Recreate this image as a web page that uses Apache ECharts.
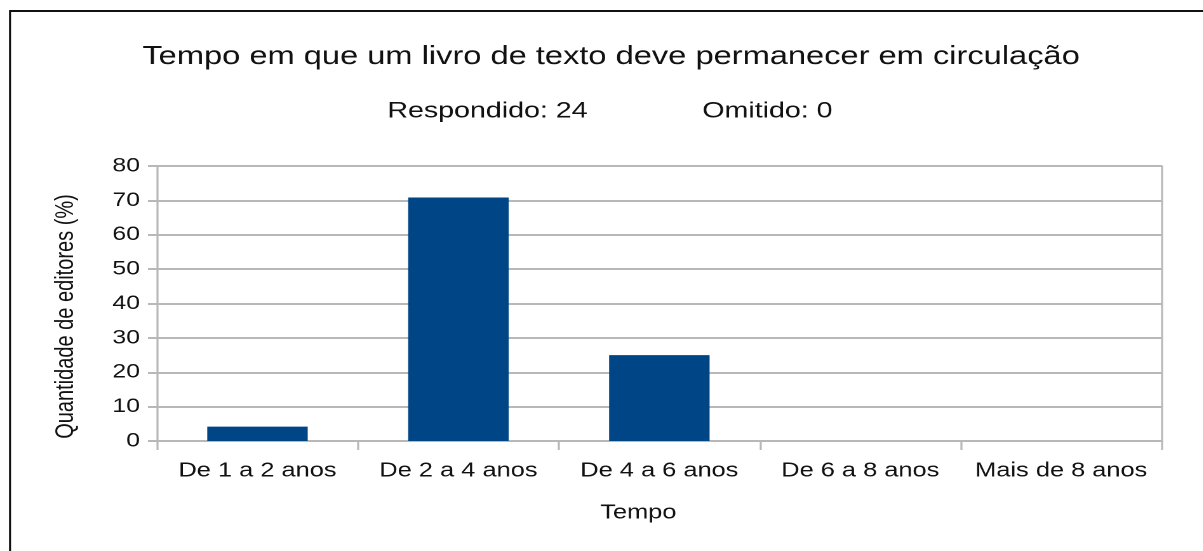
<!DOCTYPE html>
<html>
<head>
<meta charset="utf-8">
<script src="https://cdn.jsdelivr.net/npm/echarts@6/dist/echarts.min.js"></script>
<style>
  html, body { margin: 0; padding: 0; background: #fff; overflow: hidden; }
  #frame { width: 1203px; height: 551px; overflow: hidden; position: relative; }
  /* the chart is laid out on a narrower canvas and widened to the page */
  #chart { position: absolute; left: 0; top: 0; height: 551px; transform-origin: 0 0; }
</style>
</head>
<body>
<div id="frame"><div id="chart"></div></div>
<script>
// Survey: how long a textbook should stay in circulation
const categories = ['De 1 a 2 anos', 'De 2 a 4 anos', 'De 4 a 6 anos', 'De 6 a 8 anos', 'Mais de 8 anos'];
const percentages = [4.17, 70.83, 25, 0, 0];
const answered = 24;
const skipped = 0;
const yTicks = [0, 10, 20, 30, 40, 50, 60, 70, 80];

const STRETCH = 1.27;               // horizontal widening of the whole drawing
const PAGE_W = 1203;
const W = PAGE_W / STRETCH;          // layout width before widening
const sx = v => v / STRETCH;         // page x -> layout x

const FONT = '"Liberation Sans", Arial, sans-serif';
const GRID_COLOR = '#b8b8b8';
const TEXT_COLOR = '#111';
const BAR_COLOR = '#004586';

const el = document.getElementById('chart');
el.style.width = W + 'px';
el.style.transform = 'scaleX(' + STRETCH + ')';

const chart = echarts.init(el, null, { renderer: 'canvas', devicePixelRatio: 2 });

chart.setOption({
  animation: false,
  backgroundColor: '#fff',
  title: [
    {
      text: 'Tempo em que um livro de texto deve permanecer em circulação',
      left: sx(136), top: 39,
      textStyle: { fontFamily: FONT, fontSize: 25.7, fontWeight: 'normal', color: TEXT_COLOR }
    },
    {
      text: 'Respondido: ' + answered,
      left: sx(381), top: 95,
      textStyle: { fontFamily: FONT, fontSize: 22.5, fontWeight: 'normal', color: TEXT_COLOR }
    },
    {
      text: 'Omitido: ' + skipped,
      left: sx(696), top: 95,
      textStyle: { fontFamily: FONT, fontSize: 22.5, fontWeight: 'normal', color: TEXT_COLOR }
    }
  ],
  graphic: [
    // outer frame, top and left edges
    {
      type: 'line',
      shape: { x1: sx(10), y1: 11, x2: W + 10, y2: 11 },
      style: { stroke: '#111', lineWidth: 2 },
      silent: true
    },
    {
      type: 'line',
      shape: { x1: sx(10), y1: 10, x2: sx(10), y2: 560 },
      style: { stroke: '#111', lineWidth: 2 / STRETCH },
      silent: true
    }
  ],
  grid: { left: sx(157), right: W - sx(1162), top: 166, bottom: 110, containLabel: false },
  xAxis: {
    type: 'category',
    data: categories,
    boundaryGap: true,
    name: 'Tempo',
    nameLocation: 'middle',
    nameGap: 62,
    nameTextStyle: { fontFamily: FONT, fontSize: 20, color: TEXT_COLOR, padding: [0, sx(42), 0, 0] },
    axisLine: { show: true, lineStyle: { color: GRID_COLOR, width: 2 } },
    axisTick: { show: true, alignWithLabel: false, length: 9, lineStyle: { color: GRID_COLOR, width: 2 / STRETCH } },
    axisLabel: { fontFamily: FONT, fontSize: 20, color: TEXT_COLOR, margin: 20, interval: 0 },
    splitLine: { show: false }
  },
  yAxis: [
    {
      type: 'value',
      min: yTicks[0],
      max: yTicks[yTicks.length - 1],
      interval: yTicks[1] - yTicks[0],
      name: 'Quantidade de editores (%)',
      nameLocation: 'middle',
      nameGap: sx(157) - sx(79),
      nameRotate: 90,
      nameTextStyle: { fontFamily: FONT, fontSize: 20, color: TEXT_COLOR, padding: [0, 26, 0, 0] },
      axisLine: { show: true, lineStyle: { color: GRID_COLOR, width: 2 / STRETCH } },
      axisTick: { show: true, length: sx(9), lineStyle: { color: GRID_COLOR, width: 2 } },
      axisLabel: { fontFamily: FONT, fontSize: 19.5, color: TEXT_COLOR, margin: sx(157) - sx(140) },
      splitLine: { show: true, lineStyle: { color: GRID_COLOR, width: 2 } }
    },
    {
      type: 'value',
      position: 'right',
      min: yTicks[0],
      max: yTicks[yTicks.length - 1],
      interval: yTicks[1] - yTicks[0],
      axisLine: { show: true, lineStyle: { color: GRID_COLOR, width: 2 / STRETCH } },
      axisTick: { show: false },
      axisLabel: { show: false },
      splitLine: { show: false }
    }
  ],
  series: [
    {
      type: 'bar',
      data: percentages,
      yAxisIndex: 0,
      barWidth: '50%',
      itemStyle: { color: BAR_COLOR }
    }
  ]
});
</script>
</body>
</html>
